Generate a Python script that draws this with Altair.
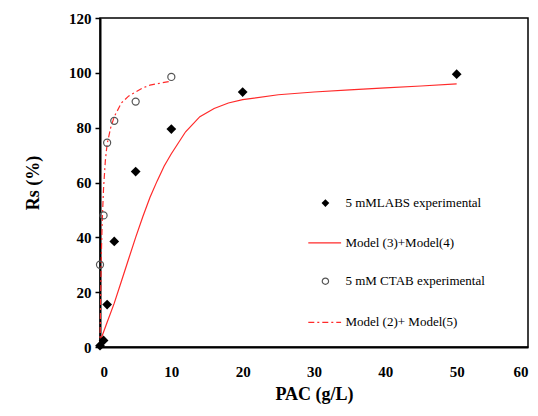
import altair as alt
import pandas as pd

# Experimental data
labs_x = [0, 0.5, 1, 2, 5, 10, 20, 50]
labs_y = [0.5, 2.4, 15.5, 38.5, 64, 79.5, 93, 99.5]

ctab_x = [0, 0.5, 1, 2, 5, 10]
ctab_y = [30, 48, 74.5, 82.5, 89.5, 98.5]

# Model curves
m34_x = [0, 0.5, 1, 2, 3, 4, 5, 6, 7, 8, 9, 10, 12, 14, 16, 18, 20, 25, 30, 35, 40, 45, 50]
m34_y = [2, 5.5, 9, 16, 24, 32, 40, 47.5, 54.5, 60.5, 66, 70.5, 78.5, 84, 87, 89, 90.2, 92, 93, 93.8, 94.5, 95.2, 96]

m25_x = [0, 0.1, 0.2, 0.3, 0.5, 0.75, 1, 1.5, 2, 3, 4, 5, 6, 7, 8, 9, 10]
m25_y = [0, 20, 35, 45, 58, 68, 74, 80, 84, 89, 91.5, 93, 94.5, 95.5, 96, 96.5, 97]

legend_labels = ["5 mMLABS experimental", "Model (3)+Model(4)",
                 "5 mM CTAB experimental", "Model (2)+ Model(5)"]
legend_y = [52.5, 38, 24, 9]

FONT = "Liberation Serif"
RED = "#ff2a2a"

xs = alt.Scale(domain=[0, 60], nice=False)
ys = alt.Scale(domain=[0, 120], nice=False)

ax_style = dict(labelFont=FONT, labelFontWeight="bold", labelFontSize=15, labelColor="black",
                titleFont=FONT, titleFontWeight="bold", titleFontSize=18, titleColor="black",
                domainColor="black", domainWidth=2, tickColor="black", tickWidth=1.5, grid=False)

X = alt.X("x:Q", scale=xs, axis=alt.Axis(values=[0, 10, 20, 30, 40, 50, 60], title="PAC (g/L)",
                                         tickSize=0, labelPadding=17, titlePadding=6, **ax_style))
Y = alt.Y("y:Q", scale=ys, axis=alt.Axis(values=[0, 20, 40, 60, 80, 100, 120], title="Rs (%)",
                                         tickSize=5, labelPadding=4, titlePadding=26, **ax_style))

df_labs = pd.DataFrame({"x": labs_x, "y": labs_y})
df_ctab = pd.DataFrame({"x": ctab_x, "y": ctab_y})
df_m34 = pd.DataFrame({"x": m34_x, "y": m34_y})
df_m25 = pd.DataFrame({"x": m25_x, "y": m25_y})

line34 = alt.Chart(df_m34).mark_line(color=RED, strokeWidth=1.2).encode(x=X, y=Y)
line25 = alt.Chart(df_m25).mark_line(color=RED, strokeWidth=1.2, strokeDash=[6, 3, 2, 3]).encode(x=X, y=Y)
pts_labs = alt.Chart(df_labs).mark_point(shape="diamond", filled=True, color="black", opacity=1, size=95).encode(x=X, y=Y)
pts_ctab = alt.Chart(df_ctab).mark_point(shape="circle", filled=False, color="#555555", opacity=1, size=50,
                                         strokeWidth=1.2).encode(x=X, y=Y)

# Legend (drawn inside plot in data coordinates)
leg_text = pd.DataFrame({"x": [34.4] * 4, "y": legend_y, "label": legend_labels})
txt = alt.Chart(leg_text).mark_text(align="left", baseline="middle", font=FONT, fontSize=13, color="black").encode(
    x=X, y=Y, text="label:N")
leg_diamond = alt.Chart(pd.DataFrame({"x": [31.6], "y": [legend_y[0]]})).mark_point(
    shape="diamond", filled=True, color="black", opacity=1, size=60).encode(x=X, y=Y)
leg_circle = alt.Chart(pd.DataFrame({"x": [31.6], "y": [legend_y[2]]})).mark_point(
    shape="circle", filled=False, color="#555555", opacity=1, size=40, strokeWidth=1.2).encode(x=X, y=Y)
leg_l1 = alt.Chart(pd.DataFrame({"x": [29.2, 33.8], "y": [legend_y[1]] * 2})).mark_line(
    color=RED, strokeWidth=1.2).encode(x=X, y=Y)
leg_l2 = alt.Chart(pd.DataFrame({"x": [29.2, 33.8], "y": [legend_y[3]] * 2})).mark_line(
    color=RED, strokeWidth=1.2, strokeDash=[6, 3, 2, 3]).encode(x=X, y=Y)

chart = alt.layer(line34, line25, pts_labs, pts_ctab, txt, leg_diamond, leg_circle, leg_l1, leg_l2).properties(
    width=428, height=329,
    autosize=alt.AutoSizeParams(type="none"),
    padding={"left": 92, "top": 10, "right": 2, "bottom": 61},
).configure_view(
    stroke="black", strokeWidth=1.5
)

chart.save("out.html", embed_options={"renderer": "svg", "actions": False})
